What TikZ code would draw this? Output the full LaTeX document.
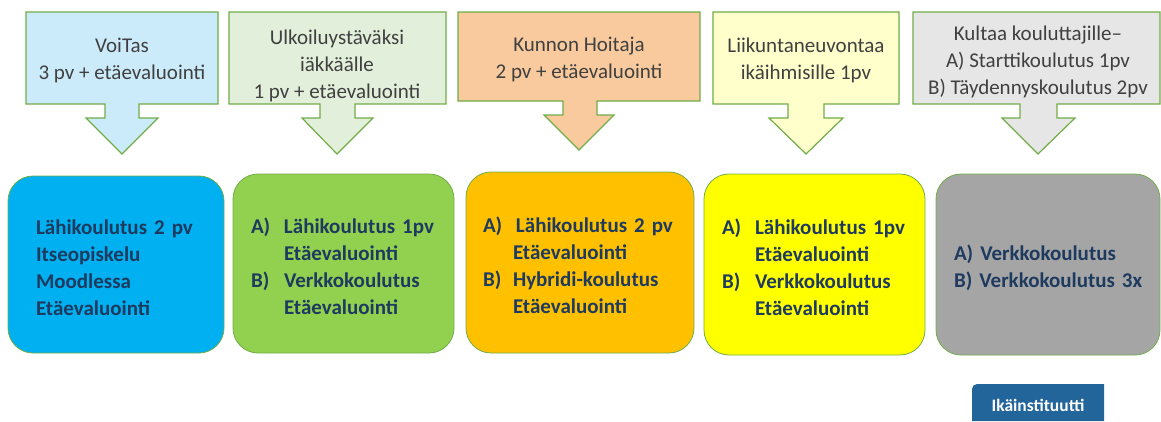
\documentclass[tikz,border=0pt]{standalone}
\usepackage{fontspec}
\setmainfont{Carlito}
\usepackage{tikz}

\definecolor{edgegreen}{HTML}{70AD47}
\definecolor{topgrey}{HTML}{404040}
\definecolor{navytext}{HTML}{1F3A5F}
\definecolor{voitasfill}{HTML}{CCEBFA}
\definecolor{ulkofill}{HTML}{E2EFDA}
\definecolor{kunnonfill}{HTML}{F8CA9E}
\definecolor{liikfill}{HTML}{FFFFCC}
\definecolor{kultafill}{HTML}{E7E6E6}
\definecolor{bluebox}{HTML}{00B0F0}
\definecolor{greenbox}{HTML}{92D050}
\definecolor{orangebox}{HTML}{FFC000}
\definecolor{yellowbox}{HTML}{FFFF00}
\definecolor{greybox}{HTML}{A5A5A5}
\definecolor{ikablue}{HTML}{22659A}

\begin{document}
\begin{tikzpicture}[x=1pt, y=-1pt,
    callout/.style = {draw=edgegreen, line width=1.2pt, line join=miter},
    calltext/.style = {align=center, text=topgrey, inner sep=0pt, font=\fontsize{21}{27}\selectfont},
    course/.style = {draw=edgegreen, line width=0.8pt, rounded corners=25pt, inner sep=0pt},
    coursetext/.style = {align=left, inner sep=0pt, text=navytext, font=\fontsize{21}{27}\selectfont\bfseries}]

\useasboundingbox (0,0) rectangle (1161,421);

% top boxes with arrows
\draw[callout, fill=voitasfill] (26,12) -- (218,12) -- (218,104) -- (139,104) -- (139,118) -- (158,118) -- (122,154) -- (86,118) -- (105,118) -- (105,104) -- (26,104) -- cycle;
\draw[callout, fill=ulkofill] (229,12) -- (446,12) -- (446,104) -- (355,104) -- (355,118) -- (373,118) -- (337,154) -- (302,118) -- (320,118) -- (320,104) -- (229,104) -- cycle;
\draw[callout, fill=kunnonfill] (458,12) -- (700,12) -- (700,101) -- (597,101) -- (597,115) -- (614,115) -- (579,150) -- (544,115) -- (563,115) -- (563,101) -- (458,101) -- cycle;
\draw[callout, fill=liikfill] (713,12) -- (899,12) -- (899,104) -- (824,104) -- (824,118) -- (843,118) -- (806,154) -- (769,118) -- (788,118) -- (788,104) -- (713,104) -- cycle;
\draw[callout, fill=kultafill] (913,12) -- (1160,12) -- (1160,104) -- (1057,104) -- (1057,118) -- (1075,118) -- (1038,154) -- (1002,118) -- (1020,118) -- (1020,104) -- (913,104) -- cycle;

\node[calltext] (voitas) at (122,60) {VoiTas\\3 pv + etäevaluointi};
\node[calltext] (ulko) at (337,66) {Ulkoiluystäväksi\\iäkkäälle\\1 pv + etäevaluointi};
\node[calltext] (kunnon) at (579,59) {Kunnon Hoitaja\\2 pv + etäevaluointi};
\node[calltext] (liikunta) at (806,60) {Liikuntaneuvontaa\\ikäihmisille 1pv};
\node[calltext] (kultaa) at (1038,62) {Kultaa kouluttajille–\\A) Starttikoulutus 1pv\\B) Täydennyskoulutus 2pv};

% bottom boxes
\node[course, fill=bluebox, minimum width=216pt, minimum height=177pt] (voitasbox) at (116,264.5) {};
\node[course, fill=greenbox, minimum width=221pt, minimum height=179pt] (ulkobox) at (343.5,263.5) {};
\node[course, fill=orangebox, minimum width=228pt, minimum height=181pt] (kunnonbox) at (580,262.5) {};
\node[course, fill=yellowbox, minimum width=221pt, minimum height=181pt] (liikuntabox) at (814.5,264.5) {};
\node[course, fill=greybox, minimum width=224pt, minimum height=181pt] (kultaabox) at (1048,264.5) {};

\node[coursetext, text width=160pt] (voitaslist) at ([yshift=-3pt]voitasbox.center)
    {Lähikoulutus 2 pv\\Itseopiskelu\\Moodlessa\\Etäevaluointi};
\node[coursetext, text width=185pt] (ulkolist) at ([yshift=-3pt]ulkobox.center)
    {\makebox[33pt][l]{A)}Lähikoulutus 1pv\\\hspace*{33pt}Etäevaluointi\\\makebox[33pt][l]{B)}Verkkokoulutus\\\hspace*{33pt}Etäevaluointi};
\node[coursetext, text width=194pt] (kunnonlist) at ([yshift=-3pt]kunnonbox.center)
    {\makebox[33pt][l]{A)}Lähikoulutus 2 pv\\\hspace*{30pt}Etäevaluointi\\\makebox[30pt][l]{B)}Hybridi-koulutus\\\hspace*{30pt}Etäevaluointi};
\node[coursetext, text width=185pt] (liikuntalist) at ([yshift=-3pt]liikuntabox.center)
    {\makebox[33pt][l]{A)}Lähikoulutus 1pv\\\hspace*{33pt}Etäevaluointi\\\makebox[33pt][l]{B)}Verkkokoulutus\\\hspace*{33pt}Etäevaluointi};
\node[coursetext, text width=200pt] (kultaalist) at ([xshift=6pt,yshift=-3pt]kultaabox.center)
    {A) Verkkokoulutus\\B) Verkkokoulutus 3x};

% logo tab
\fill[ikablue] (972,421) [rounded corners=5pt] -- (972,384) [sharp corners] -- (1104,384) -- (1104,421) -- cycle;
\node[text=white, font=\fontsize{17.5}{19}\selectfont\bfseries] (ikainst) at (1038,405) {Ikäinstituutti};
\end{tikzpicture}
\end{document}
